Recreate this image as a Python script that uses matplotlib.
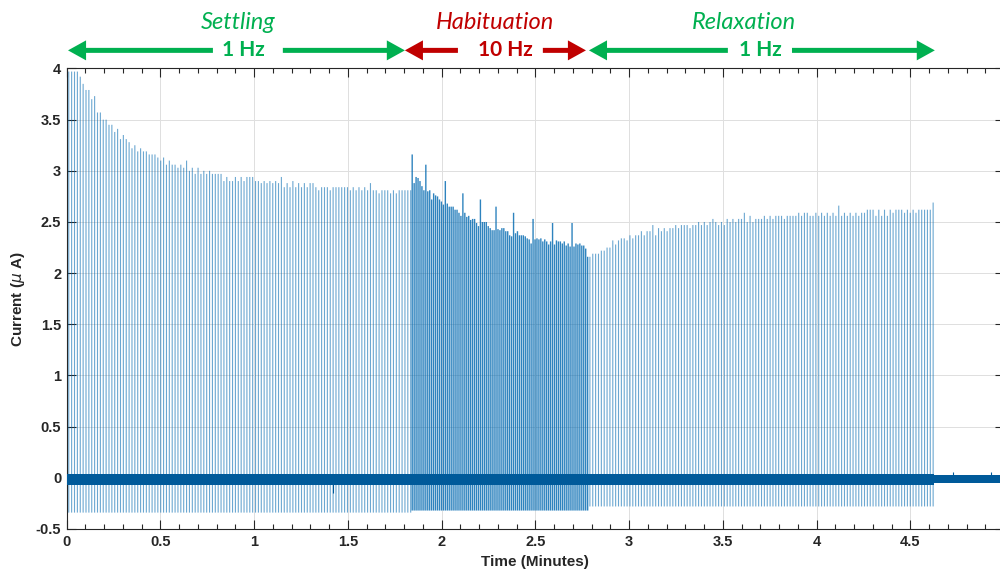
''' STIMULATION CURRENT TRACE '''

import numpy as np
import matplotlib
matplotlib.use("Agg")
import matplotlib.pyplot as plt
import matplotlib.transforms as mtransforms

plt.rcParams['font.family'] = ['Liberation Sans', 'DejaVu Sans']

# spike peaks (uA) for each phase, one entry per pulse
settling_peaks = [
    3.97, 3.97, 3.97, 3.97, 3.92, 3.85, 3.79, 3.79, 3.70, 3.73,
    3.57, 3.57, 3.50, 3.50, 3.45, 3.45, 3.38, 3.41, 3.31, 3.35,
    3.31, 3.28, 3.22, 3.25, 3.19, 3.22, 3.19, 3.19, 3.16, 3.16,
    3.16, 3.13, 3.10, 3.13, 3.06, 3.10, 3.06, 3.06, 3.03, 3.06,
    3.03, 3.10, 3.00, 3.03, 2.97, 3.03, 2.97, 3.00, 2.97, 3.00,
    2.97, 2.97, 2.97, 2.97, 2.90, 2.94, 2.90,
    2.90, 2.94, 2.90, 2.94, 2.90, 2.94, 2.94, 2.94, 2.90, 2.90,
    2.88, 2.90, 2.88, 2.90, 2.88, 2.90, 2.88, 2.94, 2.84, 2.88,
    2.84, 2.90, 2.84, 2.88, 2.84, 2.88, 2.84, 2.88, 2.88, 2.84,
    2.81, 2.84, 2.84, 2.84, 2.81, 2.84, 2.84, 2.84, 2.84, 2.84,
    2.84, 2.81, 2.84, 2.81, 2.84, 2.81, 2.84, 2.81, 2.88, 2.81,
    2.81, 2.78, 2.81, 2.81, 2.81, 2.78, 2.81, 2.78, 2.81, 2.81,
    2.81, 2.81, 2.81,
]
habituation_peaks = [
    3.16, 2.88, 2.94, 2.93, 2.90, 2.85, 2.81, 3.06, 2.80, 2.81,
    2.72, 2.78, 2.76, 2.75, 2.72, 2.70, 2.67, 2.90, 2.68, 2.65,
    2.65, 2.65, 2.62, 2.62, 2.59, 2.56, 2.78, 2.59, 2.55, 2.56,
    2.52, 2.53, 2.53, 2.49, 2.46, 2.72, 2.50, 2.50, 2.50, 2.46,
    2.44, 2.42, 2.42, 2.65, 2.43, 2.42, 2.44, 2.44, 2.41, 2.41,
    2.37, 2.36, 2.59, 2.39, 2.41, 2.37, 2.37, 2.37, 2.36, 2.34,
    2.33, 2.29, 2.53, 2.33, 2.34, 2.33, 2.34, 2.31, 2.33, 2.31,
    2.28, 2.31, 2.49, 2.28, 2.32, 2.31, 2.31, 2.29, 2.31, 2.27,
    2.29, 2.26, 2.49, 2.26, 2.29, 2.28, 2.29, 2.27, 2.27, 2.24,
    2.16,
]
relaxation_peaks = [
    2.16, 2.19, 2.19, 2.19, 2.22, 2.22, 2.25, 2.25, 2.32, 2.28,
    2.32, 2.34, 2.34, 2.32, 2.37, 2.34, 2.37, 2.37, 2.41, 2.37,
    2.41, 2.41, 2.47, 2.37, 2.44, 2.41, 2.44, 2.41, 2.44, 2.44,
    2.47, 2.44, 2.47, 2.47, 2.47, 2.44, 2.47, 2.47, 2.50, 2.47,
    2.50, 2.47, 2.50, 2.53, 2.50, 2.47, 2.50, 2.47, 2.53, 2.50,
    2.53, 2.50, 2.53, 2.53, 2.59, 2.50, 2.56, 2.50, 2.53, 2.53,
    2.53, 2.56, 2.53, 2.56, 2.53, 2.56, 2.56, 2.56, 2.53, 2.56,
    2.56, 2.56, 2.56, 2.59, 2.56, 2.59, 2.59, 2.56, 2.56, 2.59,
    2.56, 2.59, 2.56, 2.59, 2.56, 2.59, 2.56, 2.66, 2.56, 2.59,
    2.56, 2.59, 2.56, 2.59, 2.56, 2.59, 2.59, 2.62, 2.62, 2.62,
    2.56, 2.62, 2.56, 2.62, 2.56, 2.62, 2.59, 2.62, 2.62, 2.62,
    2.59, 2.62, 2.59, 2.62, 2.59, 2.62, 2.62, 2.62, 2.62, 2.62,
    2.69,
]

# phase windows (minutes): first and last pulse
settling_window = (0.011, 1.835)
habituation_window = (1.843, 2.779)
relaxation_window = (2.791, 4.622)

# negative swing after each pulse (uA)
settling_trough = -0.34
habituation_trough = -0.32
relaxation_trough = -0.28

# baseline noise band (uA)
band_t = [0.0, 4.625, 4.625, 5.0]
band_hi = [0.035, 0.035, 0.025, 0.025]
band_lo = [-0.07, -0.07, -0.055, -0.055]

# small stray events on the baseline
blip_t = [1.42, 4.73, 4.928]
blip_v = [-0.15, 0.06, 0.06]

# phase labels: name, rate, colour, text x, rate x, arrow extents (minutes)
phases = [
    ('Settling', '1 Hz', '#00B050', 0.916, 0.943, (0.007, 0.780), (1.153, 1.804)),
    ('Habituation', '10 Hz', '#C00000', 2.284, 2.340, (1.804, 2.087), (2.540, 2.770)),
    ('Relaxation', '1 Hz', '#00B050', 3.610, 3.698, (2.786, 3.527), (3.869, 4.631)),
]

blue = '#0068B0'

fig = plt.figure(figsize=(10, 5.79), dpi=100)
ax = fig.add_axes([0.0667, 0.0864, 0.9373, 0.7953])

for peaks, window, trough, lw, alpha in [
    (settling_peaks, settling_window, settling_trough, 0.8, 0.58),
    (habituation_peaks, habituation_window, habituation_trough, 1.0, 0.82),
    (relaxation_peaks, relaxation_window, relaxation_trough, 0.8, 0.58),
]:
    t = np.linspace(window[0], window[1], len(peaks))
    ax.vlines(t, trough, peaks, color=blue, lw=lw, alpha=alpha, zorder=2, snap=False)

ax.fill_between(band_t, band_lo, band_hi, color='#005A9A', lw=0, zorder=3)
ax.vlines(blip_t, 0, blip_v, color='#005A9A', lw=0.8, zorder=3)

ax.set_xlim(0, 5)
ax.set_ylim(-0.5, 4)
ax.set_xticks(np.arange(0, 4.51, 0.5))
ax.set_xticklabels(['0', '0.5', '1', '1.5', '2', '2.5', '3', '3.5', '4', '4.5'])
ax.set_xticks(np.arange(0, 5.01, 0.1), minor=True)
ax.set_yticks(np.arange(-0.5, 4.01, 0.5))
ax.set_yticklabels(['-0.5', '0', '0.5', '1', '1.5', '2', '2.5', '3', '3.5', '4'])
ax.tick_params(which='both', direction='in', top=True, right=True,
               color='#262626', width=0.8, labelsize=10.5, pad=4)
ax.tick_params(which='major', length=6.5)
ax.tick_params(which='minor', length=3.6, left=False, right=False)
for lab in ax.get_xticklabels() + ax.get_yticklabels():
    lab.set_fontweight('bold')
    lab.set_color('#262626')
for sp in ax.spines.values():
    sp.set_color('#262626')
    sp.set_linewidth(0.8)
ax.grid(True, which='major', color='#dfdfdf', lw=0.7, zorder=0)
ax.set_axisbelow(True)

ax.set_xlabel('Time (Minutes)', fontsize=11, fontweight='bold', color='#262626', labelpad=5)
ax.set_ylabel('Current ($\\mu$ A)', fontsize=11, fontweight='bold', color='#262626', labelpad=6)

# phase annotations above the plot
trans = mtransforms.blended_transform_factory(ax.transData, fig.transFigure)
arrow_style = 'simple,head_width=14.4,head_length=13,tail_width=3.6'
for name, rate, col, tx, rx, left, right in phases:
    ax.text(tx, 0.962, name, transform=trans, ha='center', va='center',
            fontsize=17, style='italic', color=col, family=['Lato', 'DejaVu Sans'])
    ax.text(rx, 0.913, rate, transform=trans, ha='center', va='center',
            fontsize=15, fontweight='bold', color=col, family=['Lato', 'DejaVu Sans'])
    for tip, tail in [(left[0], left[1]), (right[1], right[0])]:
        ax.annotate('', xy=(tip, 0.913), xytext=(tail, 0.913),
                    xycoords=trans, textcoords=trans,
                    arrowprops=dict(arrowstyle=arrow_style, mutation_scale=1,
                                    color=col, lw=0, shrinkA=0, shrinkB=0))

fig.savefig('out.png', dpi=100)
